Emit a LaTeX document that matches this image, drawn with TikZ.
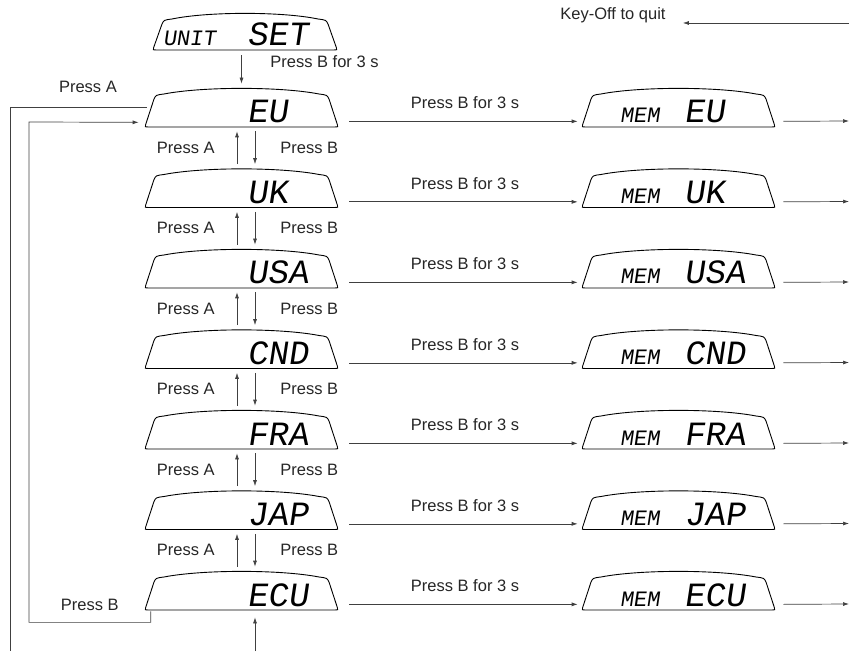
\documentclass[tikz,border=0pt]{standalone}
\usepackage{fontspec}
\setmainfont{Liberation Sans}
\newfontfamily\lcdfont[FakeSlant=0.15]{Liberation Mono}
\usetikzlibrary{positioning,arrows.meta,calc}

\newcommand\segbig[1]{{\lcdfont\fontsize{34}{34}\selectfont #1}}
\newcommand\segsmall[1]{{\lcdfont\fontsize{22}{22}\selectfont #1}}
\newcommand\lcdrow[3]{\noindent\makebox[#1][l]{#2}\segbig{#3}}

\begin{document}
\begin{tikzpicture}[x=1pt, y=1pt, line width=0.7pt,
  every node/.style={font=\fontsize{16.5}{18}\selectfont, inner sep=0pt, text=black!85},
  lcd/.style={minimum width=195pt, minimum height=41pt, inner xsep=1pt, text width=193pt,
    align=left, text height=31pt, text depth=0pt, text=black,
    path picture={
      \draw[line width=0.9pt, black] let \p1=(path picture bounding box.south west),
        \p2=(path picture bounding box.north east) in
        ({\x1+1.5pt},{\y1+3pt}) -- ({\x1+10pt},{\y2-12pt})
        .. controls ({\x1+12pt},{\y2-8pt}) .. ({\x1+20pt},{\y2-7pt})
        .. controls ({\x1+0.3*(\x2-\x1)},{\y2+0.5pt}) and ({\x2-0.3*(\x2-\x1)},{\y2+0.5pt}) .. ({\x2-20pt},{\y2-7pt})
        .. controls ({\x2-12pt},{\y2-8pt}) .. ({\x2-10pt},{\y2-12pt})
        -- ({\x2-1.5pt},{\y1+3pt}) .. controls ({\x2-1pt},{\y1+1pt}) .. ({\x2-4pt},{\y1+1pt})
        -- ({\x1+4pt},{\y1+1pt}) .. controls ({\x1+1pt},{\y1+1pt}) .. cycle;}},
  unitbox/.style={lcd, minimum width=186pt, text width=184pt, minimum height=39pt, text height=29pt},
  wire/.style={draw=black!75},
  arr/.style={draw=black!75, -{Latex[length=6pt,width=4pt]}}]
\useasboundingbox (0,0) rectangle (850,651);

% Displays, left column
\node[unitbox] (unit) at (245,619.5) {\lcdrow{94pt}{\hspace*{10pt}\segsmall{UNIT}}{SET}};
\node[lcd] (eu) at (241.5,543.5) {\lcdrow{102pt}{}{EU}};
\node[lcd] (uk) at (241.5,463) {\lcdrow{102pt}{}{UK}};
\node[lcd] (usa) at (241.5,382.5) {\lcdrow{102pt}{}{USA}};
\node[lcd] (cnd) at (241.5,302) {\lcdrow{102pt}{}{CND}};
\node[lcd] (fra) at (241.5,221.5) {\lcdrow{102pt}{}{FRA}};
\node[lcd] (jap) at (241.5,141) {\lcdrow{102pt}{}{JAP}};
\node[lcd] (ecu) at (241.5,60.5) {\lcdrow{102pt}{}{ECU}};

% Displays, right column
\node[lcd] (memeu) at (678.5,543.5) {\lcdrow{102pt}{\hspace*{38pt}\segsmall{MEM}}{EU}};
\node[lcd] (memuk) at (678.5,463) {\lcdrow{102pt}{\hspace*{38pt}\segsmall{MEM}}{UK}};
\node[lcd] (memusa) at (678.5,382.5) {\lcdrow{102pt}{\hspace*{38pt}\segsmall{MEM}}{USA}};
\node[lcd] (memcnd) at (678.5,302) {\lcdrow{102pt}{\hspace*{38pt}\segsmall{MEM}}{CND}};
\node[lcd] (memfra) at (678.5,221.5) {\lcdrow{102pt}{\hspace*{38pt}\segsmall{MEM}}{FRA}};
\node[lcd] (memjap) at (678.5,141) {\lcdrow{102pt}{\hspace*{38pt}\segsmall{MEM}}{JAP}};
\node[lcd] (memecu) at (678.5,60.5) {\lcdrow{102pt}{\hspace*{38pt}\segsmall{MEM}}{ECU}};

% Free ends
\node[anchor=west] (quit) at (560,636) {Key-Off to quit};
\coordinate (keyoff) at (849,628);
\coordinate (escape) at (10,0);
\coordinate (loopin) at (29,529);
\coordinate (entry) at (255,0);
\coordinate (exiteu) at (849,530);
\coordinate (exituk) at (849,449.5);
\coordinate (exitusa) at (849,369);
\coordinate (exitcnd) at (849,288.5);
\coordinate (exitfra) at (849,208);
\coordinate (exitjap) at (849,127.5);
\coordinate (exitecu) at (849,47);

\draw[arr, shorten >=17pt] (keyoff) -- (keyoff -| quit.east);
\draw[arr, shorten <=4pt, shorten >=3pt] (unit.south -| eu.north) -- (eu.north);
\node[anchor=west] (hold) at (270,589) {Press B for 3 s};

% Press A / Press B between the rows
\draw[arr, shorten <=3pt, shorten >=3pt] ([xshift=-4.5pt]uk.north) -- ([xshift=-4.5pt]eu.south) node[midway, left=22pt]{Press A};
\draw[arr, shorten <=3pt, shorten >=3pt] ([xshift=13.5pt]eu.south) -- ([xshift=13.5pt]uk.north) node[midway, right=25pt]{Press B};
\draw[arr, shorten <=3pt, shorten >=3pt] ([xshift=-4.5pt]usa.north) -- ([xshift=-4.5pt]uk.south) node[midway, left=22pt]{Press A};
\draw[arr, shorten <=3pt, shorten >=3pt] ([xshift=13.5pt]uk.south) -- ([xshift=13.5pt]usa.north) node[midway, right=25pt]{Press B};
\draw[arr, shorten <=3pt, shorten >=3pt] ([xshift=-4.5pt]cnd.north) -- ([xshift=-4.5pt]usa.south) node[midway, left=22pt]{Press A};
\draw[arr, shorten <=3pt, shorten >=3pt] ([xshift=13.5pt]usa.south) -- ([xshift=13.5pt]cnd.north) node[midway, right=25pt]{Press B};
\draw[arr, shorten <=3pt, shorten >=3pt] ([xshift=-4.5pt]fra.north) -- ([xshift=-4.5pt]cnd.south) node[midway, left=22pt]{Press A};
\draw[arr, shorten <=3pt, shorten >=3pt] ([xshift=13.5pt]cnd.south) -- ([xshift=13.5pt]fra.north) node[midway, right=25pt]{Press B};
\draw[arr, shorten <=3pt, shorten >=3pt] ([xshift=-4.5pt]jap.north) -- ([xshift=-4.5pt]fra.south) node[midway, left=22pt]{Press A};
\draw[arr, shorten <=3pt, shorten >=3pt] ([xshift=13.5pt]fra.south) -- ([xshift=13.5pt]jap.north) node[midway, right=25pt]{Press B};
\draw[arr, shorten <=3pt, shorten >=3pt] ([xshift=-4.5pt]ecu.north) -- ([xshift=-4.5pt]jap.south) node[midway, left=22pt]{Press A};
\draw[arr, shorten <=3pt, shorten >=3pt] ([xshift=13.5pt]jap.south) -- ([xshift=13.5pt]ecu.north) node[midway, right=25pt]{Press B};

% Store with Press B for 3 s
\draw[arr, shorten >=3pt] ([xshift=10pt,yshift=7pt]eu.south east) -- ([yshift=7pt]memeu.south west) node[midway, above=12pt]{Press B for 3 s};
\draw[arr, shorten >=3pt] ([xshift=10pt,yshift=7pt]uk.south east) -- ([yshift=7pt]memuk.south west) node[midway, above=12pt]{Press B for 3 s};
\draw[arr, shorten >=3pt] ([xshift=10pt,yshift=7pt]usa.south east) -- ([yshift=7pt]memusa.south west) node[midway, above=12pt]{Press B for 3 s};
\draw[arr, shorten >=3pt] ([xshift=10pt,yshift=7pt]cnd.south east) -- ([yshift=7pt]memcnd.south west) node[midway, above=12pt]{Press B for 3 s};
\draw[arr, shorten >=3pt] ([xshift=10pt,yshift=7pt]fra.south east) -- ([yshift=7pt]memfra.south west) node[midway, above=12pt]{Press B for 3 s};
\draw[arr, shorten >=3pt] ([xshift=10pt,yshift=7pt]jap.south east) -- ([yshift=7pt]memjap.south west) node[midway, above=12pt]{Press B for 3 s};
\draw[arr, shorten >=3pt] ([xshift=10pt,yshift=7pt]ecu.south east) -- ([yshift=7pt]memecu.south west) node[midway, above=12pt]{Press B for 3 s};
\draw[arr] ([xshift=7pt,yshift=7pt]memeu.south east) -- (exiteu);
\draw[arr] ([xshift=7pt,yshift=7pt]memuk.south east) -- (exituk);
\draw[arr] ([xshift=7pt,yshift=7pt]memusa.south east) -- (exitusa);
\draw[arr] ([xshift=7pt,yshift=7pt]memcnd.south east) -- (exitcnd);
\draw[arr] ([xshift=7pt,yshift=7pt]memfra.south east) -- (exitfra);
\draw[arr] ([xshift=7pt,yshift=7pt]memjap.south east) -- (exitjap);
\draw[arr] ([xshift=7pt,yshift=7pt]memecu.south east) -- (exitecu);

% Wrap-around on the left
\draw[wire] ([xshift=3pt]eu.west) -- (eu.west -| escape) node[pos=0.43, above=14pt]{Press A} -- (escape);
\draw[arr, shorten >=5pt] ([xshift=7pt]ecu.south west) -- ++(0,-11) coordinate (corner) -- (corner -| loopin) node[midway, above=11pt]{Press B} -- (loopin) -- ([yshift=6pt]eu.south west);
\draw[arr, shorten >=6pt] (entry) -- (entry |- ecu.south);
\end{tikzpicture}
\end{document}
